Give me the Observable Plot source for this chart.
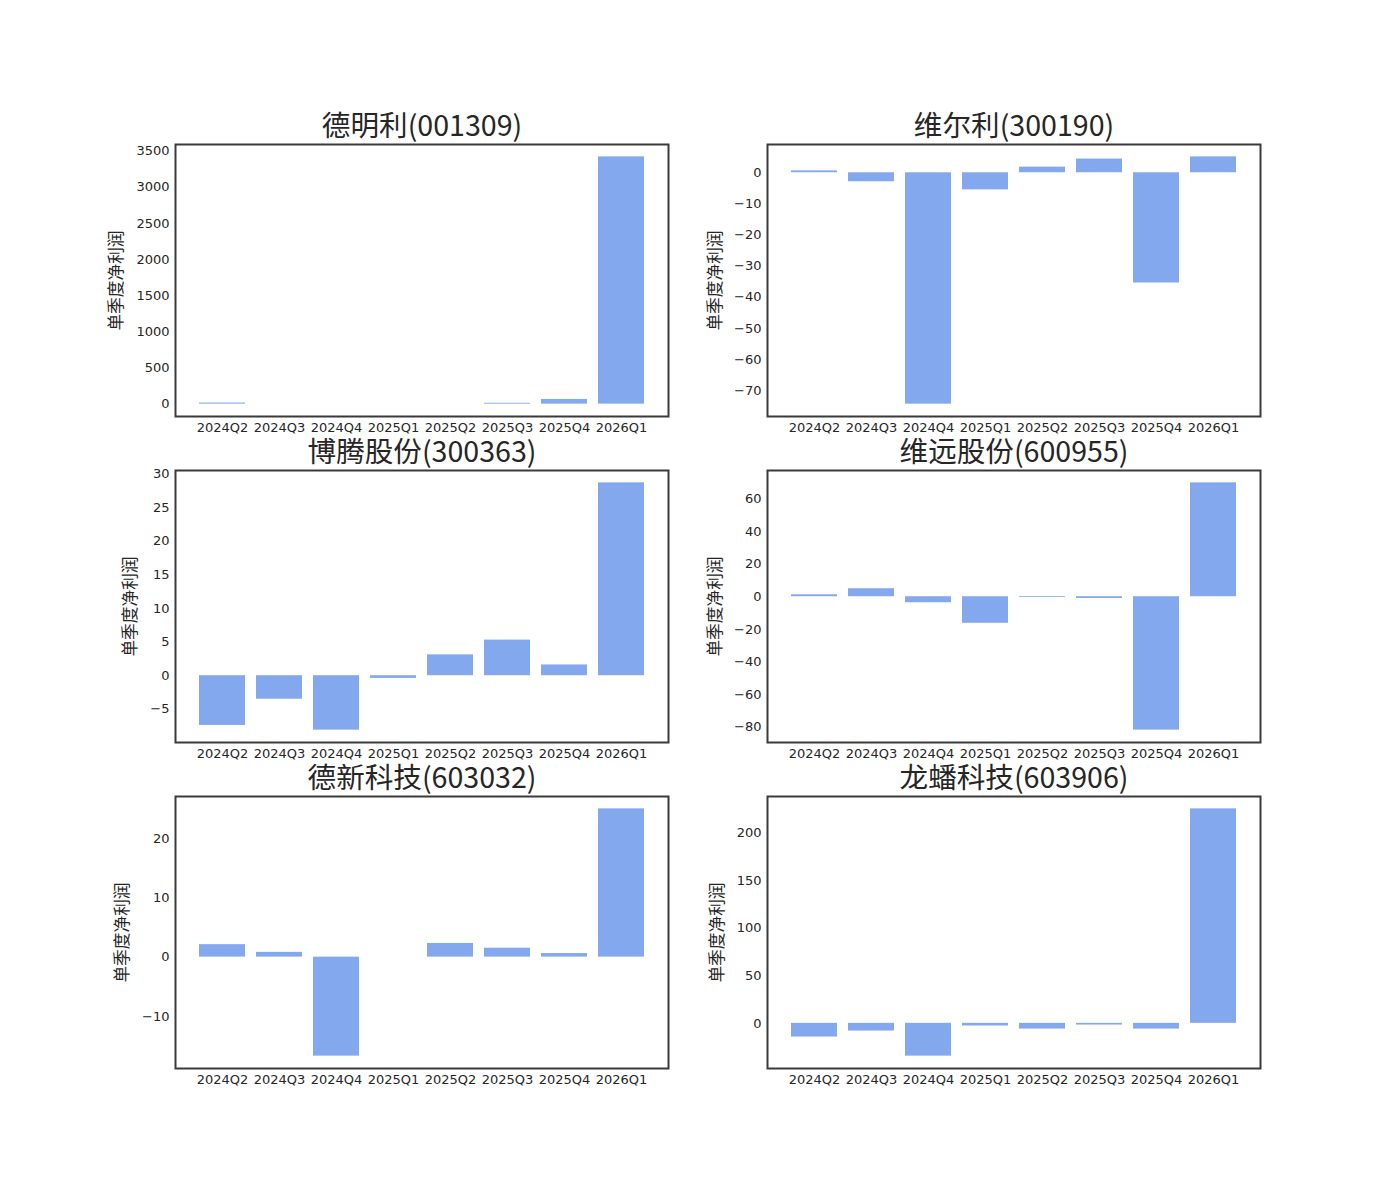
<!DOCTYPE html>
<html><head><meta charset="utf-8">
<script src="https://cdn.jsdelivr.net/npm/d3@7"></script>
<script src="https://cdn.jsdelivr.net/npm/@observablehq/plot@0.6"></script>
<style>
body{margin:0;background:#fff;}
#chart{position:relative;width:1400px;height:1200px;background:#fff;}
#chart svg{position:absolute;overflow:visible;}
</style></head><body><div id="chart"></div>
<script>
const quarters = ["2024Q2","2024Q3","2024Q4","2025Q1","2025Q2","2025Q3","2025Q4","2026Q1"];
const titles = ["德明利(001309)","维尔利(300190)","博腾股份(300363)","维远股份(600955)","德新科技(603032)","龙蟠科技(603906)"];
const yLabel = "单季度净利润";

const vals_001309 = [15, null, null, null, null, 12, 65, 3420];
const vals_300190 = [0.6, -2.9, -74.3, -5.5, 1.8, 4.4, -35.4, 5.1];
const vals_300363 = [-7.4, -3.5, -8.1, -0.4, 3.1, 5.3, 1.6, 28.7];
const vals_600955 = [1.2, 4.9, -3.7, -16.3, -0.5, -1.1, -81.8, 69.8];
const vals_603032 = [2.1, 0.8, -16.7, null, 2.3, 1.5, 0.6, 25.0];
const vals_603906 = [-14.4, -8.1, -34.5, -2.8, -6.0, -1.8, -6.0, 225.6];

const ticks_001309 = [0, 500, 1000, 1500, 2000, 2500, 3000, 3500];
const ticks_300190 = [0, -10, -20, -30, -40, -50, -60, -70];
const ticks_300363 = [-5, 0, 5, 10, 15, 20, 25, 30];
const ticks_600955 = [-80, -60, -40, -20, 0, 20, 40, 60];
const ticks_603032 = [-10, 0, 10, 20];
const ticks_603906 = [0, 50, 100, 150, 200];

const allVals = [vals_001309, vals_300190, vals_300363, vals_600955, vals_603032, vals_603906];
const allTicks = [ticks_001309, ticks_300190, ticks_300363, ticks_600955, ticks_603032, ticks_603906];
const labelOffsets = [59, 52, 45, 52, 53, 50];

const chart = document.getElementById("chart");
const domainFor = v => {
  const f = v.filter(d => d != null);
  const lo = Math.min(0, d3.min(f)), hi = Math.max(0, d3.max(f));
  const m = (hi - lo) * 0.05;
  return [lo - m, hi + m];
};
const fmt = d => d < 0 ? "\u2212" + Math.abs(d) : String(d);

allVals.forEach((vals, i) => {
  const col = i % 2, row = Math.floor(i / 2);
  const data = quarters.map((q, j) => ({q, v: vals[j]})).filter(d => d.v != null);
  const svg = Plot.plot({
    width: 700, height: 346,
    marginTop: 44, marginBottom: 30,
    marginLeft: col ? 67 : 175, marginRight: col ? 140 : 32,
    style: {background: "transparent", overflow: "visible", fontFamily: "DejaVu Sans", fontSize: "13px", color: "#262626"},
    x: {type: "band", domain: quarters, paddingInner: 0.2, paddingOuter: 0.38, label: null, tickSize: 0, tickPadding: 6},
    y: {domain: domainFor(vals), ticks: allTicks[i], label: null, tickSize: 0, tickPadding: 6, tickFormat: fmt},
    marks: [
      Plot.barY(data, {x: "q", y: "v", fill: "#83a8ee", inset: 0}),
      Plot.frame({stroke: "#3a3a3a", strokeWidth: 2}),
      Plot.text([titles[i]], {frameAnchor: "top", lineAnchor: "middle", textAnchor: "middle", dy: -18, text: d => d, fontSize: 28.6, fontFamily: "Noto Sans CJK SC", fill: "#262626"}),
      Plot.text([yLabel], {frameAnchor: "left", lineAnchor: "middle", textAnchor: "middle", dx: -labelOffsets[i], rotate: -90, text: d => d, fontSize: 16.7, fontFamily: "Noto Sans CJK SC", fill: "#262626"})
    ]
  });
  svg.style.left = (col * 700) + "px";
  svg.style.top = (100 + 326 * row) + "px";
  chart.appendChild(svg);
});
</script></body></html>
